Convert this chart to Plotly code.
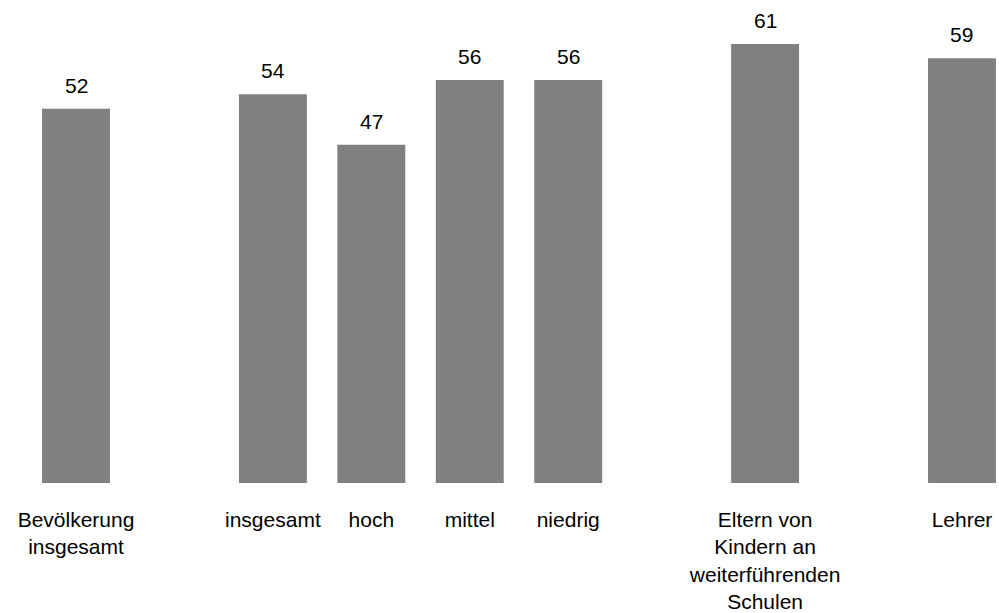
import plotly.graph_objects as go

# Survey shares (percent) per group
categories = [
    "Bevölkerung<br>insgesamt",
    "insgesamt",
    "hoch",
    "mittel",
    "niedrig",
    "Eltern von<br>Kindern an<br>weiterführenden<br>Schulen",
    "Lehrer",
]
values = [52, 54, 47, 56, 56, 61, 59]

# Horizontal slots: empty slots separate the groups
slots = [0, 2, 3, 4, 5, 7, 9]

BAR_COLOR = "#808080"
FONT = "Liberation Sans, Arial, sans-serif"

fig = go.Figure(
    go.Bar(
        x=slots,
        y=values,
        width=0.69,
        marker=dict(color=BAR_COLOR, line=dict(width=0)),
        hoverinfo="skip",
    )
)

for xs, v in zip(slots, values):
    fig.add_annotation(
        x=xs, y=v, text=str(v), showarrow=False,
        yanchor="bottom", yshift=10,
        font=dict(family=FONT, size=21, color="#000000"),
    )

fig.update_layout(
    width=999,
    height=613,
    margin=dict(l=0, r=0, t=0, b=130),
    paper_bgcolor="white",
    plot_bgcolor="white",
    showlegend=False,
    font=dict(family=FONT, size=21, color="#000000"),
    xaxis=dict(
        range=[-0.772, 9.376],
        tickmode="array",
        tickvals=slots,
        ticktext=categories,
        showgrid=False,
        zeroline=False,
        showline=False,
        ticks="",
        ticklabelstandoff=22,
        tickfont=dict(family=FONT, size=21, color="#000000"),
    ),
    yaxis=dict(
        range=[0, 67.1],
        visible=False,
    ),
)

fig.write_html("out.html")
